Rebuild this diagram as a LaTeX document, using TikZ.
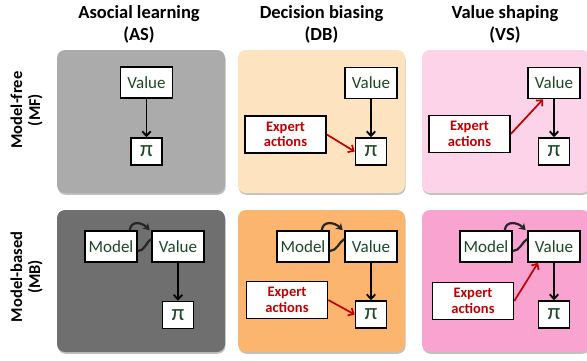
\documentclass[tikz,border=0pt]{standalone}
\usepackage{fontspec}
\setmainfont{Carlito}
\usetikzlibrary{arrows.meta,shadows}
\definecolor{boxgreen}{RGB}{28,72,38}
\definecolor{expred}{RGB}{192,0,0}
\definecolor{asmf}{RGB}{171,171,171}
\definecolor{asmb}{RGB}{111,111,111}
\definecolor{dbmf}{RGB}{253,227,192}
\definecolor{dbmb}{RGB}{252,181,110}
\definecolor{vsmf}{RGB}{253,211,233}
\definecolor{vsmb}{RGB}{249,163,208}
\definecolor{cyc}{RGB}{38,38,38}
\begin{document}
\begin{tikzpicture}[x=1pt,y=-1pt,
  panel/.style={rounded corners=8pt, draw=none,
    drop shadow={shadow xshift=0.6pt,shadow yshift=-1.8pt,opacity=0.35,fill=black!70}},
  title/.style={align=center, font=\bfseries\fontsize{18.5}{22}\selectfont, inner sep=0pt},
  rowlab/.style={align=center, font=\bfseries\fontsize{16.5}{18}\selectfont, inner sep=0pt, rotate=90},
  box/.style={draw=black, line width=1.6pt, fill=white, text=boxgreen,
    font=\fontsize{17}{19}\selectfont, minimum width=52pt, minimum height=31pt, inner sep=1pt},
  pibox/.style={box, minimum width=31pt, minimum height=27pt, font=\fontsize{23}{24}\selectfont},
  expbox/.style={draw=black, line width=1.6pt, fill=white, text=expred, align=center,
    font=\bfseries\fontsize{14.5}{15.5}\selectfont, minimum width=81pt, minimum height=37pt, inner sep=1pt},
  arr/.style={draw=black, line width=1.9pt, -{Straight Barb[length=4.5pt,width=8.5pt]}},
  redarr/.style={draw=expred, line width=1.7pt, -{Straight Barb[length=4.5pt,width=8.5pt]}},
  cycup/.style={draw=cyc, line width=2.2pt, -{Stealth[length=6.5pt,width=8pt]}},
  cyclo/.style={draw=cyc, line width=2.2pt}
]
\useasboundingbox (0,0) rectangle (587,360);

% titles
\node[title] (tAS) at (139,24) {Asocial learning\\(AS)};
\node[title] (tDB) at (321.5,24) {Decision biasing\\(DB)};
\node[title] (tVS) at (505,24) {Value shaping\\(VS)};
\node[rowlab] (rMF) at (26.5,110) {Model-free\\(MF)};
\node[rowlab] (rMB) at (26.5,277) {Model-based\\(MB)};

% panels
\fill[panel, fill=asmf] (57,50) rectangle (225,193);
\fill[panel, fill=dbmf] (238,50) rectangle (405,193);
\fill[panel, fill=vsmf] (422,50) rectangle (590,193);
\fill[panel, fill=asmb] (57,210) rectangle (225,352);
\fill[panel, fill=dbmb] (238,210) rectangle (405,352);
\fill[panel, fill=vsmb] (422,210) rectangle (590,352);

% AS MF
\node[box] (V1) at (146.5,82.5) {Value};
\node[pibox] (P1) at (146.5,151.5) {π};
\draw[arr] (V1) -- (P1);

% DB MF
\node[box] (V2) at (371,83) {Value};
\node[pibox] (P2) at (371,151.5) {π};
\node[expbox] (E2) at (285.5,134.5) {Expert\\actions};
\draw[arr] (V2) -- (P2);
\draw[redarr] (E2.east) -- (P2.west);

% VS MF
\node[box] (V3) at (554,83) {Value};
\node[pibox] (P3) at (554,151.5) {π};
\node[expbox] (E3) at (469.5,134) {Expert\\actions};
\draw[arr] (V3) -- (P3);
\draw[redarr] (E3.east) -- ([xshift=-11pt]V3.south);

% AS MB
\node[box] (M4) at (111,246.5) {Model};
\node[box] (V4) at (178,246.5) {Value};
\node[pibox] (P4) at (178,315) {π};
\draw[arr] (V4) -- (P4);

% DB MB
\node[box] (M5) at (303,246.5) {Model};
\node[box] (V5) at (371,246.5) {Value};
\node[pibox] (P5) at (371,314.5) {π};
\node[expbox] (E5) at (287,300) {Expert\\actions};
\draw[arr] (V5) -- (P5);
\draw[redarr] (E5.east) -- (P5.west);

% VS MB
\node[box] (M6) at (486,246.5) {Model};
\node[box] (V6) at (554,246.5) {Value};
\node[pibox] (P6) at (554,314.5) {π};
\node[expbox] (E6) at (473,301) {Expert\\actions};
\draw[arr] (V6) -- (P6);
\draw[redarr] (E6.east) -- ([xshift=-16pt]V6.south);

% cycle arrows between Model and Value
\foreach \m/\v in {M4/V4,M5/V5,M6/V6}{
  \draw[cycup] ([xshift=-8pt]\m.north east) .. controls +(1,-10) and +(-8,-8) .. ([xshift=-1.5pt]\v.north west);
  \draw[cyclo] ([yshift=-4.5pt]\m.east) .. controls +(7,0) and +(-5,3) .. ([yshift=7.5pt]\v.west);
}
\end{tikzpicture}
\end{document}
